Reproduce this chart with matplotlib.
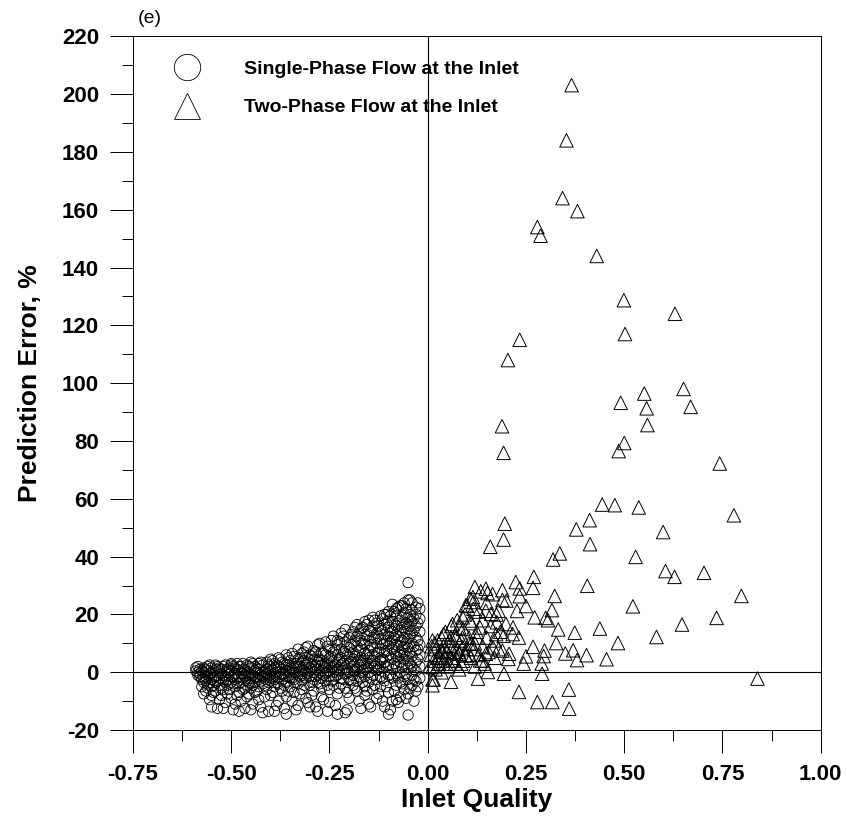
import matplotlib
matplotlib.use("Agg")
import matplotlib.pyplot as plt
from matplotlib.lines import Line2D
from matplotlib.ticker import MultipleLocator, FormatStrFormatter

plt.rcParams["axes.unicode_minus"] = False

# ---- data (inlet quality, prediction error %) ----
# single-phase flow at the inlet, listed column by column
sp_cols = {
    -0.590: [1.5, 0.5],
    -0.580: [-0.5, 1.0, -1.5],
    -0.570: [0.0, -2.0, 1.5, -3.5, -7.5],
    -0.560: [-1.0, 0.5, -4.0, -5.5, 2.0],
    -0.550: [-2.5, 0.0, 1.5, -8.0, -5.0, -12.0],
    -0.540: [-1.5, 1.0, -3.5, -6.5, 2.5],
    -0.530: [0.5, -2.0, -4.5, -9.5, 1.5],
    -0.520: [-1.0, 2.0, -3.0, -6.0, -12.5],
    -0.510: [0.0, -2.5, 1.0, -7.5, -4.5],
    -0.500: [-1.5, 2.5, 0.5, -3.5, -9.0, 3.0],
    -0.490: [-0.5, 1.5, -5.0, -2.5, -11.0],
    -0.480: [0.5, -1.5, 2.0, -4.0, -7.0, -13.5],
    -0.470: [-2.0, 1.0, -0.5, -6.0, 3.0],
    -0.460: [0.0, -3.0, 2.5, -8.5, -4.5],
    -0.450: [-1.0, 1.5, -2.0, -5.5, -13.0, 3.5],
    -0.440: [0.5, -1.5, 2.0, -3.5, -7.0],
    -0.430: [-0.5, 1.0, -2.5, -9.5, 3.0, -5.0],
    -0.420: [0.0, 2.5, -1.5, -4.0, -14.0],
    -0.410: [1.0, -2.0, -6.0, 3.5, -0.5],
    -0.400: [0.5, -1.0, 2.0, -3.0, -8.0, 4.5],
    -0.390: [-1.5, 1.5, 3.0, -5.0, -13.5, -2.5],
    -0.380: [0.0, 2.0, -2.0, -4.0, -10.0, 5.0],
    -0.370: [1.0, -0.5, 3.5, -6.5, -2.5],
    -0.360: [0.5, 2.5, -1.5, -3.5, -8.5, 6.0, -14.5],
    -0.350: [1.5, -1.0, 4.0, -5.0, -2.0, 0.0],
    -0.340: [0.0, 3.0, -2.5, 5.5, -7.0, 1.5],
    -0.330: [2.0, -1.0, 4.5, -4.0, 8.0, -11.5],
    -0.320: [1.0, -0.5, 3.5, -3.0, 6.5, -6.0, 0.5],
    -0.310: [2.5, 0.0, -2.0, 5.0, 8.5, -9.0],
    -0.300: [1.5, -1.5, 3.0, 6.0, -4.5, -12.0, 0.5],
    -0.290: [0.0, 2.0, 4.5, -2.5, 7.5, -6.5],
    -0.280: [1.0, 3.5, -1.0, 5.5, 9.5, -3.5, -13.5],
    -0.270: [2.5, 0.5, 4.0, -2.0, 7.0, -5.5, -8.5],
    -0.260: [1.5, 3.0, -0.5, 6.0, 10.5, -3.0, 0.0],
    -0.250: [0.5, 2.5, 5.0, -1.5, 8.0, -6.0, -10.5],
    -0.240: [2.0, 4.0, 0.0, 7.0, 12.5, -2.5, -4.5],
    -0.230: [1.0, 3.5, 6.0, -1.0, 9.5, -7.5, -14.5, 11.0],
    -0.220: [2.5, 0.5, 5.0, 8.0, -2.0, 13.5, -4.0],
    -0.210: [1.5, 4.0, -0.5, 6.5, 10.5, -5.5, -14.0, 14.8],
    -0.200: [3.0, 0.0, 5.5, 8.5, -2.5, 12.0, -9.0],
    -0.190: [2.0, 4.5, 7.0, -1.0, 10.0, 14.0, -4.5, 0.5],
    -0.180: [1.0, 3.5, 6.0, 9.0, -3.0, 12.5, -6.5, 16.5],
    -0.170: [2.5, 5.0, 0.0, 8.0, 11.0, -2.0, 15.0, -12.5, 4.0],
    -0.160: [3.0, 6.5, 1.0, 9.5, 13.0, -1.5, -5.0, 17.5, -8.0],
    -0.150: [2.0, 5.0, 7.5, 11.0, 0.0, 14.5, -3.5, 18.0, -11.0],
    -0.140: [4.0, 1.5, 8.5, 6.0, 12.0, -1.0, 16.0, -6.0, 19.0],
    -0.130: [3.0, 6.5, 10.0, 0.5, 13.5, 17.0, -2.5, -9.0],
    -0.120: [5.0, 2.0, 8.0, 11.5, 15.0, -1.5, 19.5, -5.0, 4.0],
    -0.110: [3.5, 7.0, 0.0, 10.0, 13.0, 16.5, -3.0, 20.0, -12.0],
    -0.100: [6.0, 2.5, 9.0, 12.5, 15.5, -1.0, 18.0, -7.0, 21.0, -14.5],
    -0.090: [4.5, 8.0, 1.0, 11.0, 14.0, 17.5, -2.0, 23.5, -10.0],
    -0.080: [5.5, 2.0, 9.5, 13.0, 16.0, -0.5, 19.5, -4.5, 22.0, -9.5],
    -0.070: [3.5, 7.0, 10.5, 0.0, 14.5, 18.0, -3.5, 23.0, -8.5, 6.0],
    -0.060: [6.5, 2.5, 9.0, 12.0, 16.5, -1.5, 20.5, -6.0, 24.0, 4.5],
    -0.050: [4.0, 8.5, 1.5, 11.5, 15.0, 19.0, -2.5, 25.0, -7.5, 31.0, -14.8],
    -0.040: [5.5, 2.0, 10.0, 13.5, 17.5, -1.0, 21.5, -4.5, 24.0],
    -0.030: [3.5, 7.5, 0.5, 12.0, 16.0, 20.0, -3.0, 22.5, -6.5],
    -0.020: [2.0, 6.0, 9.5, 14.0, -2.0, 18.5, 22.0],
}
# second pass through the cloud, points lying between the columns above
sp_cols_b = {
    -0.585: [0.0, -1.0, 2.0],
    -0.575: [-2.5, 0.5, -5.0],
    -0.565: [1.0, -1.5, -3.0, -6.5],
    -0.555: [-0.5, 2.5, -3.5, -9.5],
    -0.545: [0.5, -2.0, -4.5, -7.0],
    -0.535: [-1.0, 2.0, -3.0, -12.5],
    -0.525: [1.0, -0.5, -5.5, -8.0],
    -0.515: [-1.5, 2.5, -3.5, -10.5],
    -0.505: [0.5, -2.5, -6.0, 1.5],
    -0.495: [-1.0, 2.0, -4.0, -13.0],
    -0.485: [1.0, -2.0, -8.0, 3.0],
    -0.475: [-0.5, 2.0, -3.5, -10.0],
    -0.465: [0.5, -1.5, -5.5, -12.5],
    -0.455: [2.0, -0.5, -3.5, -7.5],
    -0.445: [-1.0, 3.0, -4.5, -11.0],
    -0.435: [1.5, -2.0, -6.5, 0.0],
    -0.425: [-1.0, 3.5, -3.0, -12.0],
    -0.415: [0.5, -1.5, -4.5, -8.5],
    -0.405: [2.5, -0.5, -3.5, -13.5],
    -0.395: [1.0, -2.0, 4.0, -7.0],
    -0.385: [0.0, 2.5, -3.5, -11.5],
    -0.375: [1.5, -1.5, 4.5, -5.5],
    -0.365: [-0.5, 3.0, -4.5, -12.5],
    -0.355: [2.5, 0.5, 5.0, -6.5],
    -0.345: [1.0, -2.0, 6.5, -10.0],
    -0.335: [3.0, 0.0, -3.5, -13.0],
    -0.325: [2.0, 5.0, -1.5, -7.5],
    -0.315: [0.5, 4.0, 7.0, -4.5],
    -0.305: [3.5, -0.5, 9.0, -10.5],
    -0.295: [1.0, 5.5, -3.5, -8.0],
    -0.285: [2.5, 7.0, -1.5, -12.0],
    -0.275: [0.0, 4.5, 10.0, -4.0],
    -0.265: [2.0, 6.5, -1.0, -9.5],
    -0.255: [3.5, 0.5, 9.0, -4.5, -13.5],
    -0.245: [1.5, 5.5, 11.0, -3.0],
    -0.235: [2.5, 8.0, -1.5, -11.5],
    -0.225: [0.5, 4.5, 10.5, -5.5],
    -0.215: [3.0, 7.0, 12.5, -2.5],
    -0.205: [1.0, 6.0, -0.5, -7.0, -13.0],
    -0.195: [3.5, 9.5, 13.0, -3.0],
    -0.185: [0.5, 5.5, 11.0, -5.5, 15.5],
    -0.175: [2.5, 7.5, 13.5, -1.5, -10.0],
    -0.165: [4.0, 10.0, -3.5, 15.5, 0.5],
    -0.155: [1.5, 6.0, 12.5, 16.5, -6.5],
    -0.145: [3.0, 9.5, 14.0, -2.0, -12.0],
    -0.135: [5.5, 11.5, 2.0, 18.0, -4.5],
    -0.125: [1.0, 7.0, 12.5, 16.0, -7.5],
    -0.115: [4.5, 9.5, 14.5, 18.5, -2.0, -10.0],
    -0.105: [2.0, 7.5, 11.0, 17.0, -5.0, 20.0],
    -0.095: [5.0, 10.0, 13.5, 19.5, -1.0, -13.0],
    -0.085: [3.0, 7.0, 12.0, 15.0, 21.0, -6.5],
    -0.075: [5.0, 9.0, 12.5, 17.0, -2.0, 22.5, -10.5],
    -0.065: [1.5, 8.0, 11.0, 15.5, 19.0, -4.0, 23.0],
    -0.055: [5.5, 10.0, 14.0, 17.0, 22.0, -0.5, -9.0],
    -0.045: [3.0, 7.0, 12.5, 16.0, 20.0, -5.5, 25.0],
    -0.035: [1.0, 9.0, 14.5, 18.5, -2.5, -10.0],
    -0.025: [4.5, 8.0, 11.0, 17.0, 24.0, -5.0],
}
sp_x = [x for d in (sp_cols, sp_cols_b) for x, ys in d.items() for _ in ys]
sp_y = [y for d in (sp_cols, sp_cols_b) for ys in d.values() for y in ys]

# two-phase flow at the inlet
tp_x = [0.366, 0.353, 0.343, 0.381, 0.279, 0.287, 0.430, 0.499, 0.629, 0.502,
        0.234, 0.204, 0.651, 0.551, 0.491, 0.557, 0.669, 0.559, 0.189, 0.193,
        0.500, 0.486, 0.743, 0.444, 0.476, 0.537, 0.779, 0.412, 0.378, 0.599,
        0.196, 0.193, 0.159, 0.413, 0.336, 0.319, 0.529, 0.605, 0.628, 0.703,
        0.270, 0.406, 0.798, 0.522, 0.323, 0.735, 0.647, 0.438, 0.582, 0.484,
        0.455, 0.374, 0.332, 0.839, 0.232, 0.279, 0.317, 0.359, 0.360, 0.059,
        0.012, 0.012, 0.128, 0.153, 0.194, 0.291, 0.404, 0.380, 0.350, 0.370,
        0.295, 0.290, 0.244, 0.250, 0.268, 0.297, 0.327, 0.306, 0.316, 0.300,
        0.272, 0.224, 0.234, 0.268, 0.190, 0.200, 0.234, 0.250, 0.227, 0.120,
        0.148, 0.152, 0.108, 0.116, 0.148, 0.161, 0.180, 0.176, 0.199, 0.217,
        0.193, 0.216, 0.232, 0.174, 0.166, 0.190, 0.207, 0.205, 0.148, 0.133,
        0.097, 0.080, 0.063, 0.029, 0.012, 0.012, 0.040, 0.063, 0.080, 0.059,
        0.089, 0.108, 0.133, 0.125, 0.089, 0.110, 0.033, 0.029, 0.055, 0.072,
        0.097, 0.116,
        0.005, 0.008, 0.010, 0.015, 0.015, 0.020, 0.020, 0.025, 0.028, 0.030,
        0.035, 0.035, 0.040, 0.040, 0.045, 0.050, 0.050, 0.055, 0.060, 0.060,
        0.065, 0.070, 0.070, 0.075, 0.080, 0.080, 0.085, 0.090, 0.090, 0.095,
        0.100, 0.100, 0.105, 0.110, 0.110, 0.115, 0.120, 0.120, 0.125, 0.130,
        0.130, 0.135, 0.140, 0.140, 0.145, 0.150, 0.150, 0.155, 0.160, 0.165,
        0.170, 0.170, 0.175, 0.180, 0.185, 0.190, 0.045, 0.065, 0.085, 0.105,
        0.025, 0.055, 0.075, 0.095, 0.018, 0.038, 0.068, 0.088, 0.118, 0.138]
tp_y = [203.1, 184.0, 164.0, 159.5, 154.0, 151.0, 144.0, 128.7, 124.0, 117.0,
        115.0, 108.0, 98.0, 96.4, 93.2, 91.3, 91.8, 85.5, 85.1, 75.9,
        79.3, 76.5, 72.2, 58.0, 57.8, 57.0, 54.3, 52.6, 49.4, 48.5,
        51.4, 45.9, 43.4, 44.3, 41.1, 39.0, 39.9, 35.0, 33.0, 34.4,
        33.0, 29.9, 26.4, 22.8, 26.4, 18.8, 16.5, 15.1, 12.2, 10.1,
        4.5, 13.7, 14.8, -2.2, -6.8, -10.3, -10.3, -6.0, -12.6, -3.3,
        -4.5, -2.5, -2.2, 0.1, -0.5, -0.5, 5.9, 4.2, 6.5, 7.6,
        5.6, 3.0, 3.0, 5.5, 8.8, 7.5, 10.1, 18.0, 21.5, 18.8,
        19.0, 31.2, 29.0, 29.2, 28.4, 24.8, 26.3, 22.9, 21.2, 29.5,
        28.9, 27.4, 25.4, 22.0, 21.3, 20.2, 21.3, 17.3, 16.7, 15.5,
        12.6, 13.2, 12.0, 13.2, 8.6, 7.5, 6.4, 4.6, 6.4, 4.1,
        5.8, 6.4, 4.1, 3.0, 1.8, 11.0, 13.2, 16.7, 15.5, 12.0,
        19.0, 17.9, 15.5, 12.0, 8.6, 9.8, 7.5, 5.2, 9.3, 12.0,
        23.2, 24.3,
        2.0, 6.0, 9.0, -2.5, 4.0, 1.0, 8.0, 11.0, 3.0, 6.0,
        0.0, 12.0, 4.0, 9.0, 14.0, 2.0, 7.0, 11.0, 5.0, 16.0,
        9.0, 3.0, 13.0, 18.0, 7.0, 1.0, 11.0, 15.0, 4.0, 20.0,
        8.0, 23.0, 12.0, 5.0, 17.0, 26.0, 10.0, 2.0, 14.0, 21.0,
        6.0, 28.0, 9.0, 18.0, 3.0, 12.0, 24.0, 7.0, 16.0, 27.0,
        5.0, 11.0, 20.0, 8.0, 14.0, 25.0, 5.0, 7.0, 3.0, 10.0,
        5.0, 3.0, 8.0, 6.0, 10.0, 7.0, 4.0, 12.0, 8.0, 4.0]

labels = ["Single-Phase Flow at the Inlet", "Two-Phase Flow at the Inlet"]

bold_font = ["Liberation Sans", "DejaVu Sans"]

fig = plt.figure(figsize=(8.47, 8.24), dpi=100)
ax = fig.add_axes([0.157, 0.114, 0.812, 0.842])

ax.axhline(0, color="black", lw=0.8, zorder=1)
ax.axvline(0, color="black", lw=0.8, zorder=1)

ax.scatter(sp_x, sp_y, s=55, marker="o", facecolors="none",
           edgecolors="black", linewidths=0.6, zorder=3)
ax.scatter(tp_x, tp_y, s=95, marker="^", facecolors="none",
           edgecolors="black", linewidths=0.7, zorder=3)

ax.set_xlim(-0.75, 1.0)
ax.set_ylim(-20, 220)
ax.xaxis.set_major_locator(MultipleLocator(0.25))
ax.xaxis.set_minor_locator(MultipleLocator(0.125))
ax.yaxis.set_major_locator(MultipleLocator(20))
ax.yaxis.set_minor_locator(MultipleLocator(10))
ax.xaxis.set_major_formatter(FormatStrFormatter("%.2f"))
ax.tick_params(which="major", direction="out", length=16.5, width=0.7, pad=8)
ax.tick_params(which="minor", direction="out", length=8, width=0.7)
for lab in ax.get_xticklabels() + ax.get_yticklabels():
    lab.set_family(bold_font)
    lab.set_fontweight("bold")
    lab.set_fontsize(16)
for sp in ax.spines.values():
    sp.set_linewidth(0.7)

ax.set_xlabel("Inlet Quality", family=bold_font, fontweight="bold",
              fontsize=19, labelpad=2)
ax.set_ylabel("Prediction Error, %", family=bold_font, fontweight="bold",
              fontsize=19, labelpad=14)

fig.text(0.177, 0.978, "(e)", fontsize=14, family=bold_font, ha="center", va="center")

handles = [
    Line2D([], [], marker="o", ls="", mfc="none", mec="black", ms=19, mew=0.6),
    Line2D([], [], marker="^", ls="", mfc="none", mec="black", ms=19, mew=0.6),
]
ax.legend(handles, labels, loc="upper left", bbox_to_anchor=(0.032, 0.99),
          frameon=False, handlelength=1.5, handletextpad=2.2, labelspacing=1.05,
          prop={"family": bold_font, "weight": "bold", "size": 14})

fig.savefig("out.png", dpi=100)
